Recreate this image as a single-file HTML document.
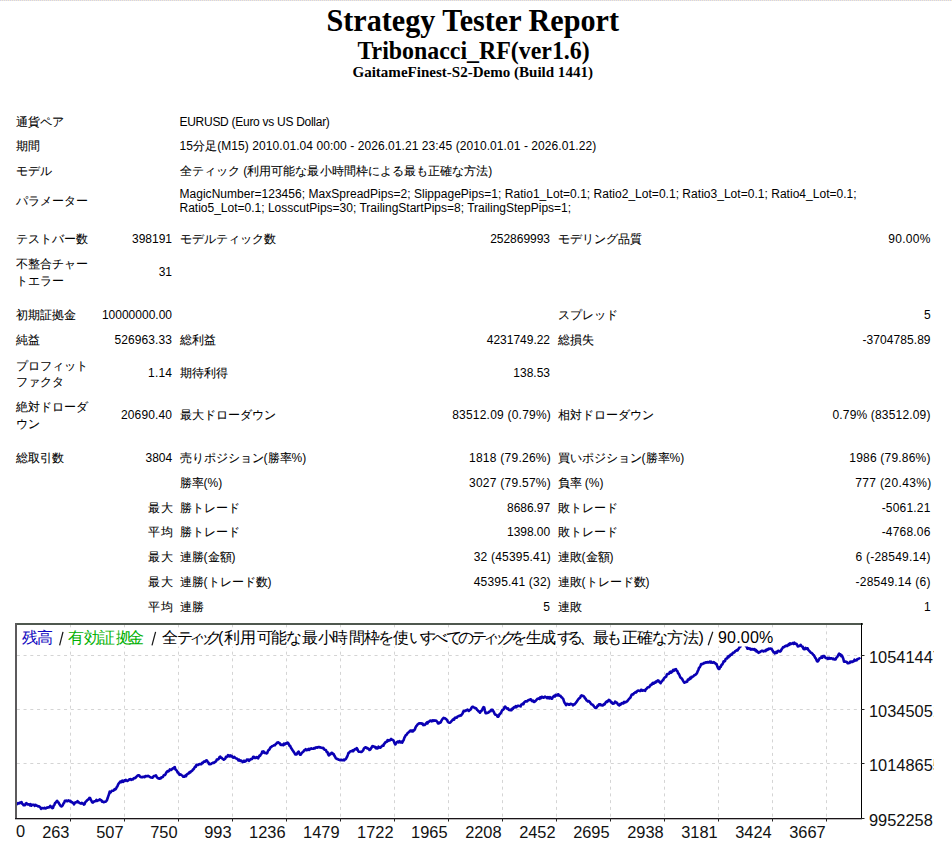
<!DOCTYPE html>
<html><head><meta charset="utf-8">
<style>
html,body{margin:0;padding:0;background:#fff;}
body{width:952px;height:846px;overflow:hidden;position:relative;font-family:"Liberation Sans",sans-serif;color:#000;}
.top{position:absolute;left:0;top:0;width:952px;height:1px;background:repeating-linear-gradient(90deg,#cfd0ef 0 1px,#f6ecca 1px 2px);}
.h{position:absolute;left:0;text-align:center;font-family:"Liberation Serif",serif;font-weight:bold;white-space:nowrap;}
.t{position:absolute;font-size:12.0px;line-height:14px;white-space:nowrap;}
.j{font-size:11.73px;-webkit-text-stroke:0.08px #000;}
.chart{position:absolute;left:0;top:0;}
.ax,.ay{position:absolute;font-size:16.4px;line-height:16px;white-space:nowrap;color:#111;letter-spacing:0px;}
.ay{width:65px;overflow:hidden;}
.cc{position:absolute;top:627.8px;font-size:16px;line-height:20px;white-space:pre;color:#000;}
</style></head><body>
<div class="top"></div>
<div class="h" style="width:945.5px;top:3.8px;font-size:30.16px;line-height:34px;transform:scaleY(1.045);transform-origin:50% 26px;">Strategy Tester Report</div>
<div class="h" style="width:947.1px;top:37.8px;font-size:23.88px;line-height:27px;transform:scaleY(1.05);transform-origin:50% 21px;">Tribonacci_RF(ver1.6)</div>
<div class="h" style="width:945.4px;top:63px;font-size:15.04px;line-height:18px;">GaitameFinest-S2-Demo (Build 1441)</div>
<div id="i0" class="t j" style="left:16.00px;top:114.80px;">通貨ペア</div>
<div id="i1" class="t" style="left:179.50px;top:114.80px;letter-spacing:-0.280px;">EURUSD (Euro vs US Dollar)</div>
<div id="i2" class="t j" style="left:16.00px;top:138.80px;">期間</div>
<div id="i3" class="t" style="left:179.50px;top:138.80px;letter-spacing:0.071px;">15<span class="j">分足</span>(M15) 2010.01.04 00:00 - 2026.01.21 23:45 (2010.01.01 - 2026.01.22)</div>
<div id="i4" class="t j" style="left:16.00px;top:163.80px;">モデル</div>
<div id="i5" class="t" style="left:179.50px;top:163.80px;letter-spacing:0.052px;"><span class="j">全ティック</span> (<span class="j">利用可能な最小時間枠による最も正確な方法</span>)</div>
<div id="i6" class="t j" style="left:16.00px;top:194.00px;">パラメーター</div>
<div id="i7" class="t" style="left:179.50px;top:187.10px;letter-spacing:0.026px;">MagicNumber=123456; MaxSpreadPips=2; SlippagePips=1; Ratio1_Lot=0.1; Ratio2_Lot=0.1; Ratio3_Lot=0.1; Ratio4_Lot=0.1;</div>
<div id="i8" class="t" style="left:179.50px;top:200.90px;">Ratio5_Lot=0.1; LosscutPips=30; TrailingStartPips=8; TrailingStepPips=1;</div>
<div id="i9" class="t j" style="left:16.00px;top:232.00px;">テストバー数</div>
<div id="i10" class="t" style="right:780.00px;top:232.00px;">398191</div>
<div id="i11" class="t j" style="left:179.50px;top:232.00px;">モデルティック数</div>
<div id="i12" class="t" style="right:402.00px;top:232.00px;letter-spacing:-0.025px;">252869993</div>
<div id="i13" class="t j" style="left:557.50px;top:232.00px;">モデリング品質</div>
<div id="i14" class="t" style="right:21.40px;top:232.00px;letter-spacing:0.280px;">90.00%</div>
<div id="i15" class="t j" style="left:16.00px;top:257.00px;">不整合チャー</div>
<div id="i16" class="t j" style="left:16.00px;top:274.00px;">トエラー</div>
<div id="i17" class="t" style="right:780.00px;top:264.80px;">31</div>
<div id="i18" class="t j" style="left:16.00px;top:308.10px;">初期証拠金</div>
<div id="i19" class="t" style="right:780.00px;top:308.10px;">10000000.00</div>
<div id="i20" class="t j" style="left:557.50px;top:308.10px;">スプレッド</div>
<div id="i21" class="t" style="right:21.40px;top:308.10px;">5</div>
<div id="i22" class="t j" style="left:16.00px;top:332.60px;">純益</div>
<div id="i23" class="t" style="right:780.00px;top:332.60px;letter-spacing:0.075px;">526963.33</div>
<div id="i24" class="t j" style="left:179.50px;top:332.60px;">総利益</div>
<div id="i25" class="t" style="right:402.00px;top:332.60px;letter-spacing:-0.022px;">4231749.22</div>
<div id="i26" class="t j" style="left:557.50px;top:332.60px;">総損失</div>
<div id="i27" class="t" style="right:21.40px;top:332.60px;letter-spacing:0.060px;">-3704785.89</div>
<div id="i28" class="t j" style="left:16.00px;top:358.70px;">プロフィット</div>
<div id="i29" class="t j" style="left:16.00px;top:375.20px;">ファクタ</div>
<div id="i30" class="t" style="right:780.00px;top:366.10px;letter-spacing:0.133px;">1.14</div>
<div id="i31" class="t j" style="left:179.50px;top:366.10px;">期待利得</div>
<div id="i32" class="t" style="right:402.00px;top:366.10px;">138.53</div>
<div id="i33" class="t j" style="left:16.00px;top:399.80px;">絶対ドローダ</div>
<div id="i34" class="t j" style="left:16.00px;top:416.80px;">ウン</div>
<div id="i35" class="t" style="right:780.00px;top:407.90px;letter-spacing:0.114px;">20690.40</div>
<div id="i36" class="t j" style="left:179.50px;top:407.90px;">最大ドローダウン</div>
<div id="i37" class="t" style="right:401.00px;top:407.90px;letter-spacing:0.213px;">83512.09 (0.79%)</div>
<div id="i38" class="t j" style="left:557.50px;top:407.90px;">相対ドローダウン</div>
<div id="i39" class="t" style="right:21.40px;top:407.90px;letter-spacing:0.173px;">0.79% (83512.09)</div>
<div id="i40" class="t j" style="left:16.00px;top:450.90px;">総取引数</div>
<div id="i41" class="t" style="right:780.00px;top:450.90px;letter-spacing:-0.067px;">3804</div>
<div id="i42" class="t" style="left:179.50px;top:450.90px;"><span class="j">売りポジション</span>(<span class="j">勝率</span>%)</div>
<div id="i43" class="t" style="right:401.00px;top:450.90px;letter-spacing:0.250px;">1818 (79.26%)</div>
<div id="i44" class="t" style="left:557.50px;top:450.90px;"><span class="j">買いポジション</span>(<span class="j">勝率</span>%)</div>
<div id="i45" class="t" style="right:21.40px;top:450.90px;letter-spacing:0.200px;">1986 (79.86%)</div>
<div id="i46" class="t" style="left:179.50px;top:475.80px;"><span class="j">勝率</span>(%)</div>
<div id="i47" class="t" style="right:401.00px;top:475.80px;letter-spacing:0.250px;">3027 (79.57%)</div>
<div id="i48" class="t" style="left:557.50px;top:475.80px;"><span class="j">負率</span> (%)</div>
<div id="i49" class="t" style="right:20.40px;top:475.80px;letter-spacing:0.364px;">777 (20.43%)</div>
<div id="i50" class="t j" style="right:777.00px;top:500.60px;letter-spacing:1.600px;">最大</div>
<div id="i51" class="t j" style="left:179.50px;top:500.60px;">勝トレード</div>
<div id="i52" class="t" style="right:402.00px;top:500.60px;letter-spacing:-0.067px;">8686.97</div>
<div id="i53" class="t j" style="left:557.50px;top:500.60px;">敗トレード</div>
<div id="i54" class="t" style="right:21.40px;top:500.60px;letter-spacing:0.200px;">-5061.21</div>
<div id="i55" class="t j" style="right:777.00px;top:525.40px;letter-spacing:1.600px;">平均</div>
<div id="i56" class="t j" style="left:179.50px;top:525.40px;">勝トレード</div>
<div id="i57" class="t" style="right:402.00px;top:525.40px;letter-spacing:-0.067px;">1398.00</div>
<div id="i58" class="t j" style="left:557.50px;top:525.40px;">敗トレード</div>
<div id="i59" class="t" style="right:21.40px;top:525.40px;letter-spacing:0.200px;">-4768.06</div>
<div id="i60" class="t j" style="right:777.00px;top:550.10px;letter-spacing:1.600px;">最大</div>
<div id="i61" class="t" style="left:179.50px;top:550.10px;"><span class="j">連勝</span>(<span class="j">金額</span>)</div>
<div id="i62" class="t" style="right:401.00px;top:550.10px;letter-spacing:0.200px;">32 (45395.41)</div>
<div id="i63" class="t" style="left:557.50px;top:550.10px;"><span class="j">連敗</span>(<span class="j">金額</span>)</div>
<div id="i64" class="t" style="right:21.40px;top:550.10px;letter-spacing:0.233px;">6 (-28549.14)</div>
<div id="i65" class="t j" style="right:777.00px;top:574.80px;letter-spacing:1.600px;">最大</div>
<div id="i66" class="t" style="left:179.50px;top:574.80px;"><span class="j">連勝</span>(<span class="j">トレード数</span>)</div>
<div id="i67" class="t" style="right:401.00px;top:574.80px;letter-spacing:0.200px;">45395.41 (32)</div>
<div id="i68" class="t" style="left:557.50px;top:574.80px;"><span class="j">連敗</span>(<span class="j">トレード数</span>)</div>
<div id="i69" class="t" style="right:21.40px;top:574.80px;letter-spacing:0.233px;">-28549.14 (6)</div>
<div id="i70" class="t j" style="right:777.00px;top:599.60px;letter-spacing:1.600px;">平均</div>
<div id="i71" class="t j" style="left:179.50px;top:599.60px;">連勝</div>
<div id="i72" class="t" style="right:402.00px;top:599.60px;">5</div>
<div id="i73" class="t j" style="left:557.50px;top:599.60px;">連敗</div>
<div id="i74" class="t" style="right:21.40px;top:599.60px;">1</div>
<svg class="chart" width="952" height="846" viewBox="0 0 952 846">
<defs><clipPath id="plot"><rect x="17" y="625" width="844" height="193"/></clipPath></defs>
<line x1="70.5" y1="625" x2="70.5" y2="818" stroke="#d4d4d4" stroke-width="1" stroke-dasharray="3 3.75" stroke-dashoffset="0.35"/>
<line x1="124.5" y1="625" x2="124.5" y2="818" stroke="#d4d4d4" stroke-width="1" stroke-dasharray="3 3.75" stroke-dashoffset="0.35"/>
<line x1="178.5" y1="625" x2="178.5" y2="818" stroke="#d4d4d4" stroke-width="1" stroke-dasharray="3 3.75" stroke-dashoffset="0.35"/>
<line x1="232.5" y1="625" x2="232.5" y2="818" stroke="#d4d4d4" stroke-width="1" stroke-dasharray="3 3.75" stroke-dashoffset="0.35"/>
<line x1="286.5" y1="625" x2="286.5" y2="818" stroke="#d4d4d4" stroke-width="1" stroke-dasharray="3 3.75" stroke-dashoffset="0.35"/>
<line x1="340.5" y1="625" x2="340.5" y2="818" stroke="#d4d4d4" stroke-width="1" stroke-dasharray="3 3.75" stroke-dashoffset="0.35"/>
<line x1="394.5" y1="625" x2="394.5" y2="818" stroke="#d4d4d4" stroke-width="1" stroke-dasharray="3 3.75" stroke-dashoffset="0.35"/>
<line x1="448.5" y1="625" x2="448.5" y2="818" stroke="#d4d4d4" stroke-width="1" stroke-dasharray="3 3.75" stroke-dashoffset="0.35"/>
<line x1="502.5" y1="625" x2="502.5" y2="818" stroke="#d4d4d4" stroke-width="1" stroke-dasharray="3 3.75" stroke-dashoffset="0.35"/>
<line x1="556.5" y1="625" x2="556.5" y2="818" stroke="#d4d4d4" stroke-width="1" stroke-dasharray="3 3.75" stroke-dashoffset="0.35"/>
<line x1="610.5" y1="625" x2="610.5" y2="818" stroke="#d4d4d4" stroke-width="1" stroke-dasharray="3 3.75" stroke-dashoffset="0.35"/>
<line x1="664.5" y1="625" x2="664.5" y2="818" stroke="#d4d4d4" stroke-width="1" stroke-dasharray="3 3.75" stroke-dashoffset="0.35"/>
<line x1="718.5" y1="625" x2="718.5" y2="818" stroke="#d4d4d4" stroke-width="1" stroke-dasharray="3 3.75" stroke-dashoffset="0.35"/>
<line x1="772.5" y1="625" x2="772.5" y2="818" stroke="#d4d4d4" stroke-width="1" stroke-dasharray="3 3.75" stroke-dashoffset="0.35"/>
<line x1="826.5" y1="625" x2="826.5" y2="818" stroke="#d4d4d4" stroke-width="1" stroke-dasharray="3 3.75" stroke-dashoffset="0.35"/>
<line x1="17" y1="655.5" x2="861" y2="655.5" stroke="#d4d4d4" stroke-width="1" stroke-dasharray="3 3.75" stroke-dashoffset="0.2"/>
<line x1="17" y1="709.5" x2="861" y2="709.5" stroke="#d4d4d4" stroke-width="1" stroke-dasharray="3 3.75" stroke-dashoffset="0.2"/>
<line x1="17" y1="763.5" x2="861" y2="763.5" stroke="#d4d4d4" stroke-width="1" stroke-dasharray="3 3.75" stroke-dashoffset="0.2"/>
<path d="M15.9,803.8 L16.6,803.4 L17.3,804.0 L18.0,803.0 L18.7,803.5 L19.4,803.1 L20.1,802.5 L20.8,803.0 L21.5,802.1 L22.2,803.7 L22.9,804.3 L23.6,805.3 L24.3,805.2 L25.0,805.2 L25.7,803.6 L26.4,803.2 L27.1,803.8 L27.8,804.5 L28.5,804.2 L29.2,804.2 L29.9,805.4 L30.6,804.2 L31.3,805.7 L32.0,805.0 L32.7,804.8 L33.4,804.7 L34.1,805.0 L34.8,805.8 L35.5,804.8 L36.2,805.4 L36.9,805.7 L37.6,805.8 L38.3,806.5 L39.0,806.3 L39.7,806.8 L40.4,807.5 L41.1,808.8 L41.8,808.3 L42.5,808.1 L43.2,808.4 L43.9,808.1 L44.6,807.8 L45.3,808.5 L46.0,808.3 L46.7,807.5 L47.4,807.7 L48.1,807.3 L48.8,807.5 L49.5,806.9 L50.2,805.9 L50.9,807.1 L51.6,806.8 L52.3,808.2 L53.0,807.8 L53.7,805.6 L54.4,804.8 L55.1,802.9 L55.8,802.6 L56.5,801.4 L57.2,800.8 L57.9,802.3 L58.6,802.5 L59.3,804.0 L60.0,804.9 L60.7,805.9 L61.4,806.4 L62.1,806.0 L62.8,805.1 L63.5,803.4 L64.2,802.7 L64.9,800.8 L65.6,800.7 L66.3,800.6 L67.0,801.2 L67.7,801.1 L68.4,800.4 L69.1,800.7 L69.8,801.4 L70.5,800.9 L71.2,802.1 L71.9,802.1 L72.6,802.6 L73.3,803.0 L74.0,804.4 L74.7,802.9 L75.4,802.5 L76.1,802.2 L76.8,802.3 L77.5,801.1 L78.2,802.0 L78.9,802.4 L79.6,803.1 L80.3,803.3 L81.0,803.6 L81.7,802.9 L82.4,803.4 L83.1,803.6 L83.8,804.6 L84.5,804.2 L85.2,802.3 L85.9,801.5 L86.6,800.9 L87.3,800.1 L88.0,799.7 L88.7,799.1 L89.4,797.9 L90.1,798.1 L90.8,799.8 L91.5,800.9 L92.2,802.3 L92.9,802.6 L93.6,801.9 L94.3,801.4 L95.0,801.3 L95.7,801.1 L96.4,799.9 L97.1,800.9 L97.8,800.5 L98.5,800.3 L99.2,799.9 L99.9,799.3 L100.6,800.0 L101.3,800.2 L102.0,801.6 L102.7,801.4 L103.4,802.1 L104.1,802.1 L104.8,801.8 L105.5,801.8 L106.2,801.1 L106.9,800.2 L107.6,798.3 L108.3,796.1 L109.0,794.3 L109.7,791.7 L110.4,792.5 L111.1,791.8 L111.8,790.9 L112.5,790.8 L113.2,790.7 L113.9,790.2 L114.6,789.1 L115.3,789.4 L116.0,788.8 L116.7,787.2 L117.4,786.4 L118.1,784.5 L118.8,783.3 L119.5,782.5 L120.2,781.6 L120.9,782.3 L121.6,781.1 L122.3,780.7 L123.0,781.9 L123.7,781.1 L124.4,780.4 L125.1,780.8 L125.8,779.9 L126.5,780.5 L127.2,781.0 L127.9,780.6 L128.6,780.2 L129.3,779.4 L130.0,779.5 L130.7,779.0 L131.4,779.8 L132.1,779.3 L132.8,779.5 L133.5,778.6 L134.2,778.0 L134.9,778.2 L135.6,777.8 L136.3,776.9 L137.0,776.2 L137.7,775.6 L138.4,775.2 L139.1,775.2 L139.8,776.4 L140.5,776.9 L141.2,777.2 L141.9,777.0 L142.6,777.1 L143.3,776.7 L144.0,777.0 L144.7,777.1 L145.4,776.0 L146.1,776.4 L146.8,776.1 L147.5,776.3 L148.2,775.9 L148.9,776.2 L149.6,776.7 L150.3,777.2 L151.0,777.4 L151.7,777.6 L152.4,777.6 L153.1,777.1 L153.8,776.1 L154.5,776.0 L155.2,775.7 L155.9,775.3 L156.6,776.7 L157.3,777.7 L158.0,778.1 L158.7,778.6 L159.4,778.8 L160.1,778.1 L160.8,778.4 L161.5,777.2 L162.2,777.3 L162.9,776.9 L163.6,775.5 L164.3,774.9 L165.0,775.0 L165.7,773.9 L166.4,772.4 L167.1,771.6 L167.8,771.0 L168.5,771.4 L169.2,770.6 L169.9,769.3 L170.6,770.0 L171.3,769.9 L172.0,769.1 L172.7,768.4 L173.4,768.4 L174.1,767.4 L174.8,767.1 L175.5,769.5 L176.2,770.0 L176.9,770.8 L177.6,772.4 L178.3,772.6 L179.0,774.3 L179.7,774.8 L180.4,774.3 L181.1,774.8 L181.8,775.3 L182.5,775.7 L183.2,776.6 L183.9,776.6 L184.6,776.6 L185.3,775.5 L186.0,776.1 L186.7,774.6 L187.4,774.1 L188.1,773.6 L188.8,773.5 L189.5,772.2 L190.2,772.5 L190.9,771.5 L191.6,771.1 L192.3,770.7 L193.0,769.5 L193.7,769.1 L194.4,767.8 L195.1,766.5 L195.8,766.7 L196.5,764.8 L197.2,764.8 L197.9,765.0 L198.6,764.6 L199.3,764.1 L200.0,764.2 L200.7,764.1 L201.4,764.2 L202.1,762.7 L202.8,762.9 L203.5,761.9 L204.2,761.5 L204.9,761.7 L205.6,760.8 L206.3,760.4 L207.0,760.5 L207.7,762.0 L208.4,762.6 L209.1,764.1 L209.8,764.3 L210.5,764.0 L211.2,763.9 L211.9,763.2 L212.6,763.0 L213.3,762.6 L214.0,762.9 L214.7,762.1 L215.4,761.8 L216.1,761.2 L216.8,759.6 L217.5,759.4 L218.2,759.4 L218.9,758.6 L219.6,756.9 L220.3,756.6 L221.0,757.7 L221.7,757.8 L222.4,758.7 L223.1,759.1 L223.8,759.7 L224.5,759.2 L225.2,758.7 L225.9,756.9 L226.6,757.1 L227.3,756.3 L228.0,755.2 L228.7,756.3 L229.4,756.4 L230.1,755.3 L230.8,756.4 L231.5,755.9 L232.2,756.4 L232.9,757.5 L233.6,757.6 L234.3,756.9 L235.0,757.8 L235.7,758.3 L236.4,758.5 L237.1,758.8 L237.8,759.4 L238.5,760.5 L239.2,759.7 L239.9,760.8 L240.6,761.0 L241.3,760.6 L242.0,761.4 L242.7,762.1 L243.4,761.7 L244.1,760.7 L244.8,761.7 L245.5,761.1 L246.2,761.0 L246.9,759.5 L247.6,759.9 L248.3,759.6 L249.0,760.8 L249.7,760.1 L250.4,759.3 L251.1,759.1 L251.8,759.1 L252.5,758.3 L253.2,756.7 L253.9,756.7 L254.6,758.0 L255.3,757.6 L256.0,757.9 L256.7,757.1 L257.4,757.2 L258.1,758.3 L258.8,757.0 L259.5,755.5 L260.2,755.8 L260.9,754.3 L261.6,753.6 L262.3,751.5 L263.0,752.4 L263.7,751.5 L264.4,753.0 L265.1,752.7 L265.8,752.9 L266.5,753.4 L267.2,753.0 L267.9,751.1 L268.6,750.0 L269.3,749.7 L270.0,748.3 L270.7,747.2 L271.4,746.8 L272.1,746.2 L272.8,745.9 L273.5,745.6 L274.2,745.2 L274.9,745.3 L275.6,744.1 L276.3,743.8 L277.0,742.8 L277.7,742.5 L278.4,742.3 L279.1,743.1 L279.8,743.2 L280.5,744.8 L281.2,745.0 L281.9,744.6 L282.6,744.7 L283.3,745.2 L284.0,743.6 L284.7,744.4 L285.4,743.5 L286.1,743.3 L286.8,743.6 L287.5,742.6 L288.2,743.1 L288.9,744.4 L289.6,745.9 L290.3,746.1 L291.0,747.9 L291.7,748.8 L292.4,750.0 L293.1,750.9 L293.8,752.1 L294.5,753.0 L295.2,754.4 L295.9,754.2 L296.6,754.5 L297.3,753.0 L298.0,752.2 L298.7,751.6 L299.4,753.7 L300.1,754.6 L300.8,754.6 L301.5,753.3 L302.2,752.5 L302.9,751.9 L303.6,751.4 L304.3,750.3 L305.0,750.0 L305.7,749.2 L306.4,750.2 L307.1,750.2 L307.8,749.5 L308.5,748.9 L309.2,749.9 L309.9,748.9 L310.6,748.9 L311.3,748.3 L312.0,748.8 L312.7,748.8 L313.4,748.7 L314.1,748.1 L314.8,748.4 L315.5,747.5 L316.2,747.7 L316.9,747.3 L317.6,747.7 L318.3,747.0 L319.0,747.0 L319.7,747.4 L320.4,747.3 L321.1,747.8 L321.8,747.7 L322.5,748.1 L323.2,747.9 L323.9,748.7 L324.6,749.7 L325.3,749.7 L326.0,750.3 L326.7,752.0 L327.4,752.0 L328.1,754.2 L328.8,755.5 L329.5,753.9 L330.2,754.4 L330.9,753.8 L331.6,752.7 L332.3,752.9 L333.0,754.1 L333.7,754.1 L334.4,755.7 L335.1,756.8 L335.8,758.3 L336.5,758.6 L337.2,759.0 L337.9,759.0 L338.6,759.8 L339.3,759.8 L340.0,760.2 L340.7,759.8 L341.4,759.9 L342.1,760.3 L342.8,760.3 L343.5,759.6 L344.2,760.3 L344.9,759.5 L345.6,759.3 L346.3,758.2 L347.0,756.9 L347.7,755.2 L348.4,753.1 L349.1,752.9 L349.8,751.8 L350.5,751.3 L351.2,751.3 L351.9,751.3 L352.6,750.3 L353.3,751.2 L354.0,750.0 L354.7,749.3 L355.4,749.1 L356.1,749.4 L356.8,748.1 L357.5,749.3 L358.2,751.1 L358.9,751.8 L359.6,751.7 L360.3,751.8 L361.0,752.0 L361.7,752.0 L362.4,751.2 L363.1,750.4 L363.8,748.7 L364.5,748.0 L365.2,747.3 L365.9,747.6 L366.6,747.6 L367.3,748.5 L368.0,748.3 L368.7,749.0 L369.4,749.9 L370.1,749.7 L370.8,748.7 L371.5,747.7 L372.2,746.2 L372.9,746.1 L373.6,746.4 L374.3,746.8 L375.0,746.7 L375.7,748.2 L376.4,747.5 L377.1,748.5 L377.8,748.3 L378.5,746.7 L379.2,747.2 L379.9,747.6 L380.6,747.6 L381.3,746.6 L382.0,746.2 L382.7,745.4 L383.4,745.7 L384.1,743.8 L384.8,743.5 L385.5,742.1 L386.2,741.9 L386.9,741.7 L387.6,740.1 L388.3,740.8 L389.0,740.1 L389.7,740.4 L390.4,739.9 L391.1,739.0 L391.8,739.7 L392.5,739.7 L393.2,740.2 L393.9,741.4 L394.6,743.4 L395.3,744.5 L396.0,743.5 L396.7,742.4 L397.4,741.9 L398.1,741.5 L398.8,742.3 L399.5,741.1 L400.2,742.3 L400.9,742.5 L401.6,741.5 L402.3,742.6 L403.0,740.9 L403.7,739.9 L404.4,737.7 L405.1,736.5 L405.8,735.2 L406.5,734.8 L407.2,733.6 L407.9,732.8 L408.6,732.4 L409.3,731.7 L410.0,730.9 L410.7,730.5 L411.4,731.3 L412.1,730.5 L412.8,731.5 L413.5,730.4 L414.2,730.4 L414.9,729.3 L415.6,727.3 L416.3,726.0 L417.0,725.4 L417.7,724.3 L418.4,723.9 L419.1,723.3 L419.8,723.5 L420.5,723.3 L421.2,723.2 L421.9,724.0 L422.6,723.6 L423.3,725.1 L424.0,724.8 L424.7,724.9 L425.4,724.3 L426.1,723.3 L426.8,722.5 L427.5,723.4 L428.2,721.7 L428.9,721.8 L429.6,721.1 L430.3,720.6 L431.0,721.1 L431.7,721.4 L432.4,720.3 L433.1,720.9 L433.8,720.4 L434.5,720.8 L435.2,720.5 L435.9,720.5 L436.6,721.1 L437.3,721.8 L438.0,723.5 L438.7,723.5 L439.4,722.5 L440.1,722.8 L440.8,722.2 L441.5,720.6 L442.2,719.4 L442.9,718.7 L443.6,717.8 L444.3,718.2 L445.0,718.3 L445.7,718.9 L446.4,719.3 L447.1,720.2 L447.8,721.6 L448.5,722.3 L449.2,722.7 L449.9,722.7 L450.6,722.2 L451.3,721.4 L452.0,720.7 L452.7,719.6 L453.4,719.3 L454.1,719.7 L454.8,717.8 L455.5,717.8 L456.2,717.5 L456.9,717.6 L457.6,716.4 L458.3,716.2 L459.0,715.9 L459.7,715.9 L460.4,715.4 L461.1,715.4 L461.8,714.4 L462.5,713.7 L463.2,711.7 L463.9,710.9 L464.6,711.2 L465.3,710.9 L466.0,710.3 L466.7,710.4 L467.4,709.6 L468.1,710.1 L468.8,710.9 L469.5,710.3 L470.2,709.7 L470.9,709.3 L471.6,707.6 L472.3,706.8 L473.0,706.7 L473.7,707.3 L474.4,707.7 L475.1,708.2 L475.8,708.0 L476.5,708.9 L477.2,710.0 L477.9,710.5 L478.6,711.5 L479.3,711.7 L480.0,712.7 L480.7,711.0 L481.4,711.1 L482.1,709.8 L482.8,708.4 L483.5,707.2 L484.2,707.5 L484.9,710.6 L485.6,713.2 L486.3,713.2 L487.0,712.7 L487.7,712.9 L488.4,712.6 L489.1,711.9 L489.8,711.2 L490.5,711.3 L491.2,709.9 L491.9,709.9 L492.6,709.7 L493.3,711.3 L494.0,712.3 L494.7,714.1 L495.4,714.7 L496.1,714.8 L496.8,715.2 L497.5,716.7 L498.2,716.7 L498.9,715.7 L499.6,714.1 L500.3,713.6 L501.0,712.7 L501.7,711.2 L502.4,710.0 L503.1,709.7 L503.8,709.1 L504.5,707.1 L505.2,706.6 L505.9,707.5 L506.6,708.0 L507.3,708.8 L508.0,708.4 L508.7,709.7 L509.4,710.0 L510.1,710.1 L510.8,709.6 L511.5,710.2 L512.2,708.7 L512.9,709.0 L513.6,707.5 L514.3,707.0 L515.0,707.3 L515.7,706.2 L516.4,707.1 L517.1,706.3 L517.8,705.7 L518.5,705.7 L519.2,705.9 L519.9,706.1 L520.6,706.4 L521.3,704.6 L522.0,704.5 L522.7,703.7 L523.4,704.2 L524.1,702.5 L524.8,701.8 L525.5,701.3 L526.2,701.2 L526.9,701.4 L527.6,700.9 L528.3,700.1 L529.0,700.0 L529.7,699.7 L530.4,699.3 L531.1,699.5 L531.8,701.1 L532.5,701.3 L533.2,700.6 L533.9,702.0 L534.6,701.7 L535.3,701.2 L536.0,700.5 L536.7,699.7 L537.4,698.8 L538.1,698.7 L538.8,698.4 L539.5,698.9 L540.2,697.3 L540.9,698.2 L541.6,696.8 L542.3,696.8 L543.0,697.6 L543.7,697.6 L544.4,697.1 L545.1,696.6 L545.8,697.3 L546.5,697.2 L547.2,698.1 L547.9,697.1 L548.6,697.5 L549.3,698.4 L550.0,697.2 L550.7,697.9 L551.4,698.6 L552.1,698.7 L552.8,697.0 L553.5,696.4 L554.2,695.8 L554.9,696.5 L555.6,694.9 L556.3,695.4 L557.0,695.4 L557.7,694.4 L558.4,694.2 L559.1,695.8 L559.8,695.8 L560.5,695.9 L561.2,697.2 L561.9,697.2 L562.6,698.2 L563.3,699.1 L564.0,701.5 L564.7,703.0 L565.4,703.9 L566.1,705.2 L566.8,703.7 L567.5,703.9 L568.2,704.2 L568.9,704.8 L569.6,704.7 L570.3,703.9 L571.0,703.9 L571.7,704.3 L572.4,704.5 L573.1,705.3 L573.8,704.3 L574.5,704.4 L575.2,703.5 L575.9,702.8 L576.6,701.9 L577.3,700.8 L578.0,699.6 L578.7,698.8 L579.4,698.0 L580.1,697.9 L580.8,696.0 L581.5,695.4 L582.2,695.9 L582.9,695.8 L583.6,696.2 L584.3,696.9 L585.0,698.4 L585.7,698.7 L586.4,700.3 L587.1,700.7 L587.8,701.5 L588.5,701.0 L589.2,701.4 L589.9,702.0 L590.6,703.3 L591.3,704.2 L592.0,704.4 L592.7,704.7 L593.4,705.6 L594.1,706.6 L594.8,707.3 L595.5,708.0 L596.2,708.0 L596.9,707.0 L597.6,705.5 L598.3,705.9 L599.0,704.4 L599.7,704.3 L600.4,704.4 L601.1,705.3 L601.8,705.0 L602.5,705.4 L603.2,705.2 L603.9,704.2 L604.6,704.5 L605.3,703.2 L606.0,702.0 L606.7,701.4 L607.4,701.8 L608.1,700.7 L608.8,699.8 L609.5,700.3 L610.2,700.7 L610.9,702.3 L611.6,702.0 L612.3,703.4 L613.0,703.7 L613.7,703.4 L614.4,703.2 L615.1,701.6 L615.8,702.2 L616.5,702.4 L617.2,703.0 L617.9,704.6 L618.6,704.5 L619.3,705.4 L620.0,704.2 L620.7,704.6 L621.4,703.6 L622.1,703.0 L622.8,703.4 L623.5,703.4 L624.2,701.9 L624.9,702.5 L625.6,702.3 L626.3,701.5 L627.0,701.5 L627.7,700.6 L628.4,699.7 L629.1,698.8 L629.8,698.3 L630.5,697.4 L631.2,695.7 L631.9,694.5 L632.6,694.4 L633.3,694.4 L634.0,693.2 L634.7,692.8 L635.4,692.1 L636.1,692.5 L636.8,691.6 L637.5,690.7 L638.2,690.6 L638.9,690.8 L639.6,690.9 L640.3,690.9 L641.0,689.9 L641.7,689.8 L642.4,690.7 L643.1,690.5 L643.8,690.4 L644.5,690.5 L645.2,690.8 L645.9,689.1 L646.6,688.8 L647.3,687.8 L648.0,687.2 L648.7,687.3 L649.4,686.9 L650.1,685.5 L650.8,684.7 L651.5,684.9 L652.2,683.6 L652.9,682.8 L653.6,683.7 L654.3,682.6 L655.0,682.8 L655.7,681.7 L656.4,682.1 L657.1,681.0 L657.8,680.4 L658.5,680.6 L659.2,681.8 L659.9,682.4 L660.6,683.2 L661.3,681.5 L662.0,681.5 L662.7,680.2 L663.4,679.6 L664.1,678.2 L664.8,677.6 L665.5,677.0 L666.2,676.6 L666.9,674.4 L667.6,674.0 L668.3,674.0 L669.0,673.8 L669.7,672.3 L670.4,671.7 L671.1,672.6 L671.8,672.2 L672.5,671.0 L673.2,669.9 L673.9,670.8 L674.6,669.5 L675.3,669.8 L676.0,669.2 L676.7,670.8 L677.4,671.1 L678.1,673.3 L678.8,673.7 L679.5,675.3 L680.2,677.1 L680.9,678.1 L681.6,678.2 L682.3,679.3 L683.0,680.6 L683.7,681.8 L684.4,682.7 L685.1,682.3 L685.8,681.9 L686.5,681.9 L687.2,681.5 L687.9,679.5 L688.6,679.7 L689.3,679.5 L690.0,677.8 L690.7,678.5 L691.4,676.9 L692.1,677.2 L692.8,676.6 L693.5,676.2 L694.2,675.3 L694.9,675.0 L695.6,674.7 L696.3,674.0 L697.0,673.0 L697.7,671.2 L698.4,669.8 L699.1,667.8 L699.8,667.3 L700.5,665.8 L701.2,664.0 L701.9,664.3 L702.6,664.1 L703.3,663.5 L704.0,662.9 L704.7,663.2 L705.4,662.5 L706.1,662.3 L706.8,662.6 L707.5,662.0 L708.2,662.5 L708.9,662.5 L709.6,661.7 L710.3,662.5 L711.0,661.5 L711.7,662.5 L712.4,662.8 L713.1,662.6 L713.8,662.1 L714.5,663.0 L715.2,663.0 L715.9,664.1 L716.6,664.1 L717.3,666.5 L718.0,668.0 L718.7,668.9 L719.4,668.9 L720.1,666.8 L720.8,666.8 L721.5,664.9 L722.2,664.5 L722.9,663.3 L723.6,661.4 L724.3,661.6 L725.0,661.0 L725.7,658.9 L726.4,658.6 L727.1,658.4 L727.8,656.7 L728.5,657.2 L729.2,655.8 L729.9,656.1 L730.6,654.5 L731.3,654.5 L732.0,654.6 L732.7,653.0 L733.4,652.6 L734.1,652.5 L734.8,651.8 L735.5,650.9 L736.2,650.7 L736.9,650.0 L737.6,650.3 L738.3,649.0 L739.0,648.4 L739.7,646.6 L740.4,646.7 L741.1,645.0 L741.8,644.8 L742.5,644.2 L743.2,643.4 L743.9,644.4 L744.6,644.2 L745.3,644.5 L746.0,646.2 L746.7,646.5 L747.4,648.7 L748.1,648.3 L748.8,648.2 L749.5,649.0 L750.2,648.5 L750.9,649.7 L751.6,649.2 L752.3,649.0 L753.0,649.7 L753.7,649.3 L754.4,649.1 L755.1,650.4 L755.8,649.8 L756.5,651.5 L757.2,651.1 L757.9,652.2 L758.6,652.8 L759.3,652.1 L760.0,652.1 L760.7,651.5 L761.4,650.9 L762.1,650.9 L762.8,650.9 L763.5,651.5 L764.2,650.9 L764.9,650.8 L765.6,651.1 L766.3,649.7 L767.0,649.5 L767.7,649.9 L768.4,648.7 L769.1,648.6 L769.8,649.0 L770.5,648.5 L771.2,648.7 L771.9,649.3 L772.6,650.8 L773.3,651.8 L774.0,652.2 L774.7,653.4 L775.4,652.8 L776.1,652.0 L776.8,652.8 L777.5,651.4 L778.2,650.9 L778.9,650.8 L779.6,651.5 L780.3,651.5 L781.0,650.6 L781.7,649.2 L782.4,648.2 L783.1,647.1 L783.8,647.2 L784.5,646.7 L785.2,646.1 L785.9,646.2 L786.6,645.5 L787.3,645.9 L788.0,645.3 L788.7,644.2 L789.4,644.9 L790.1,643.4 L790.8,644.0 L791.5,643.7 L792.2,643.4 L792.9,643.0 L793.6,643.9 L794.3,642.7 L795.0,643.4 L795.7,644.0 L796.4,643.8 L797.1,644.8 L797.8,646.4 L798.5,646.2 L799.2,646.0 L799.9,645.8 L800.6,644.9 L801.3,645.8 L802.0,646.5 L802.7,646.8 L803.4,648.8 L804.1,649.3 L804.8,649.0 L805.5,647.8 L806.2,648.8 L806.9,648.5 L807.6,648.3 L808.3,649.9 L809.0,650.6 L809.7,651.4 L810.4,652.2 L811.1,652.8 L811.8,653.0 L812.5,653.8 L813.2,654.9 L813.9,655.2 L814.6,656.7 L815.3,658.0 L816.0,658.7 L816.7,660.6 L817.4,661.5 L818.1,661.1 L818.8,659.8 L819.5,658.5 L820.2,658.1 L820.9,658.0 L821.6,656.7 L822.3,657.6 L823.0,656.1 L823.7,656.3 L824.4,656.1 L825.1,657.3 L825.8,658.0 L826.5,658.1 L827.2,657.9 L827.9,658.9 L828.6,658.0 L829.3,657.8 L830.0,658.7 L830.7,658.2 L831.4,658.2 L832.1,658.4 L832.8,659.1 L833.5,658.6 L834.2,659.4 L834.9,659.4 L835.6,659.4 L836.3,657.8 L837.0,657.3 L837.7,656.1 L838.4,654.8 L839.1,653.7 L839.8,654.8 L840.5,654.4 L841.2,656.1 L841.9,655.5 L842.6,657.0 L843.3,658.7 L844.0,661.6 L844.7,661.6 L845.4,661.6 L846.1,661.7 L846.8,661.9 L847.5,663.2 L848.2,663.3 L848.9,663.1 L849.6,662.9 L850.3,661.6 L851.0,662.1 L851.7,661.5 L852.4,661.9 L853.1,661.5 L853.8,661.3 L854.5,659.7 L855.2,660.6 L855.9,660.4 L856.6,660.3 L857.3,659.0 L858.0,659.0 L858.7,658.7 L859.4,658.3 L860.1,659.2" fill="none" stroke="#0a00b4" stroke-width="2.6" stroke-linejoin="round" clip-path="url(#plot)"/>
<rect x="20" y="627.5" width="754" height="19" fill="#fff"/>
<line x1="59.6" y1="645.3" x2="63.0" y2="631.8" stroke="#1a1a1a" stroke-width="1.25"/>
<line x1="152.0" y1="645.3" x2="155.6" y2="631.8" stroke="#1a1a1a" stroke-width="1.25"/>
<line x1="708.2" y1="645.3" x2="712.8" y2="631.8" stroke="#1a1a1a" stroke-width="1.25"/>
<rect x="15" y="623" width="848" height="2" fill="#4f584f"/>
<rect x="15" y="623" width="2" height="196" fill="#5c5a5c"/>
<rect x="15" y="818" width="847" height="1.3" fill="#1a1418"/>
<rect x="861" y="623" width="1" height="196" fill="#000"/>
<rect x="70" y="818" width="1" height="3.5" fill="#222"/>
<rect x="124" y="818" width="1" height="3.5" fill="#222"/>
<rect x="178" y="818" width="1" height="3.5" fill="#222"/>
<rect x="232" y="818" width="1" height="3.5" fill="#222"/>
<rect x="286" y="818" width="1" height="3.5" fill="#222"/>
<rect x="340" y="818" width="1" height="3.5" fill="#222"/>
<rect x="394" y="818" width="1" height="3.5" fill="#222"/>
<rect x="448" y="818" width="1" height="3.5" fill="#222"/>
<rect x="502" y="818" width="1" height="3.5" fill="#222"/>
<rect x="556" y="818" width="1" height="3.5" fill="#222"/>
<rect x="610" y="818" width="1" height="3.5" fill="#222"/>
<rect x="664" y="818" width="1" height="3.5" fill="#222"/>
<rect x="718" y="818" width="1" height="3.5" fill="#222"/>
<rect x="772" y="818" width="1" height="3.5" fill="#222"/>
<rect x="826" y="818" width="1" height="3.5" fill="#222"/>
<rect x="861" y="655" width="3.5" height="1" fill="#222"/>
<rect x="861" y="709" width="3.5" height="1" fill="#222"/>
<rect x="861" y="763" width="3.5" height="1" fill="#222"/>
<rect x="861" y="818" width="3.5" height="1" fill="#222"/>
</svg>
<span class="cc" style="left:21.9px;color:#1008c0">残</span>
<span class="cc" style="left:36.6px;color:#1008c0">高</span>
<span class="cc" style="left:67.9px;color:#00b000">有</span>
<span class="cc" style="left:84.2px;color:#00b000">効</span>
<span class="cc" style="left:99.4px;color:#00b000">証</span>
<span class="cc" style="left:115.7px;color:#00b000">拠</span>
<span class="cc" style="left:128.3px;color:#00b000">金</span>
<span class="cc" style="left:161.8px;color:#000">全</span>
<span class="cc" style="left:176.6px;color:#000">テ</span>
<span class="cc" style="left:187.8px;color:#000">ィ</span>
<span class="cc" style="left:197.7px;color:#000">ッ</span>
<span class="cc" style="left:206.0px;color:#000">ク</span>
<span class="cc" style="left:218.0px;color:#000">(</span>
<span class="cc" style="left:224.3px;color:#000">利</span>
<span class="cc" style="left:239.5px;color:#000">用</span>
<span class="cc" style="left:256.5px;color:#000">可</span>
<span class="cc" style="left:271.3px;color:#000">能</span>
<span class="cc" style="left:286.0px;color:#000">な</span>
<span class="cc" style="left:302.2px;color:#000">最</span>
<span class="cc" style="left:317.5px;color:#000">小</span>
<span class="cc" style="left:332.2px;color:#000">時</span>
<span class="cc" style="left:348.7px;color:#000">間</span>
<span class="cc" style="left:364.4px;color:#000">枠</span>
<span class="cc" style="left:377.7px;color:#000">を</span>
<span class="cc" style="left:393.4px;color:#000">使</span>
<span class="cc" style="left:409.0px;color:#000">い</span>
<span class="cc" style="left:419.7px;color:#000">す</span>
<span class="cc" style="left:432.3px;color:#000">べ</span>
<span class="cc" style="left:445.5px;color:#000">て</span>
<span class="cc" style="left:458.1px;color:#000">の</span>
<span class="cc" style="left:471.2px;color:#000">テ</span>
<span class="cc" style="left:482.4px;color:#000">ィ</span>
<span class="cc" style="left:492.4px;color:#000">ッ</span>
<span class="cc" style="left:500.7px;color:#000">ク</span>
<span class="cc" style="left:510.9px;color:#000">を</span>
<span class="cc" style="left:525.5px;color:#000">生</span>
<span class="cc" style="left:540.2px;color:#000">成</span>
<span class="cc" style="left:557.0px;color:#000">す</span>
<span class="cc" style="left:566.6px;color:#000">る</span>
<span class="cc" style="left:579.2px;color:#000">、</span>
<span class="cc" style="left:593.2px;color:#000">最</span>
<span class="cc" style="left:605.9px;color:#000">も</span>
<span class="cc" style="left:621.5px;color:#000">正</span>
<span class="cc" style="left:637.3px;color:#000">確</span>
<span class="cc" style="left:652.0px;color:#000">な</span>
<span class="cc" style="left:667.2px;color:#000">方</span>
<span class="cc" style="left:682.9px;color:#000">法</span>
<span class="cc" style="left:698.6px;color:#000">)</span>
<span class="cc" style="left:718.0px;letter-spacing:0.2px">90.00%</span>
<div class="ax" style="left:16px;top:823px">0</div>
<div class="ax" style="right:882.50px;top:824px">263</div>
<div class="ax" style="right:828.49px;top:824px">507</div>
<div class="ax" style="right:774.48px;top:824px">750</div>
<div class="ax" style="right:720.47px;top:824px">993</div>
<div class="ax" style="right:666.46px;top:824px">1236</div>
<div class="ax" style="right:612.45px;top:824px">1479</div>
<div class="ax" style="right:558.44px;top:824px">1722</div>
<div class="ax" style="right:504.43px;top:824px">1965</div>
<div class="ax" style="right:450.42px;top:824px">2208</div>
<div class="ax" style="right:396.41px;top:824px">2452</div>
<div class="ax" style="right:342.40px;top:824px">2695</div>
<div class="ax" style="right:288.39px;top:824px">2938</div>
<div class="ax" style="right:234.38px;top:824px">3181</div>
<div class="ax" style="right:180.37px;top:824px">3424</div>
<div class="ax" style="right:126.36px;top:824px">3667</div>
<div class="ay" style="left:869px;top:649.0px">10541447</div>
<div class="ay" style="left:869px;top:703.0px">10345051</div>
<div class="ay" style="left:869px;top:757.0px">10148655</div>
<div class="ay" style="left:869px;top:812.0px">9952258</div>
</body></html>
